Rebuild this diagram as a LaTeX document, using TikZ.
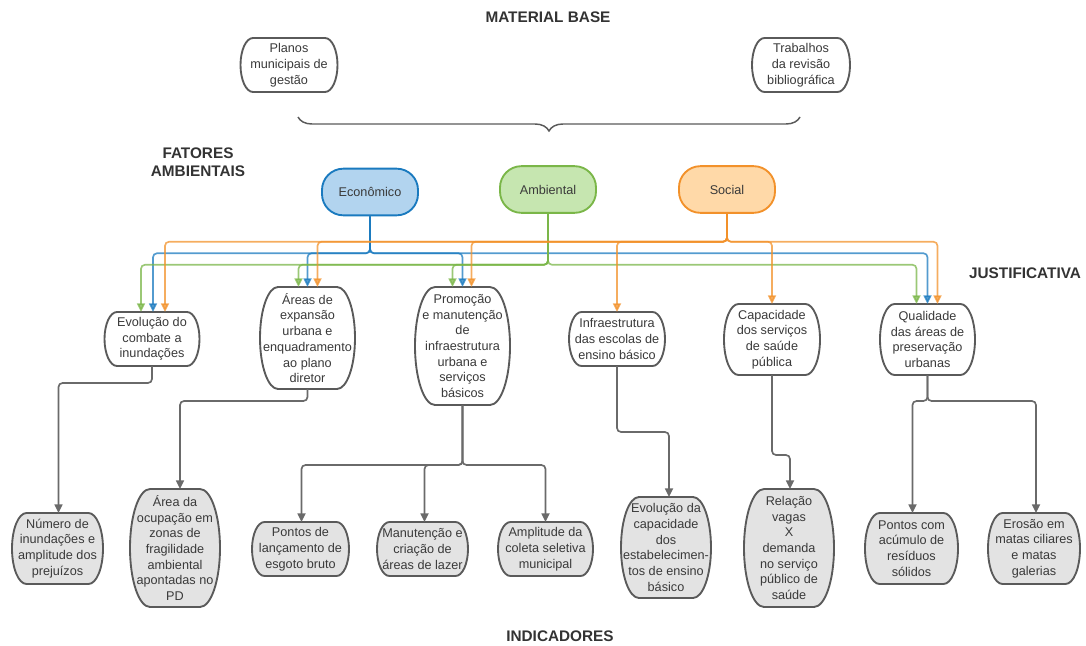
\documentclass[tikz,border=0pt]{standalone}
\usepackage{fontspec}
\setmainfont{Liberation Sans}
\usetikzlibrary{arrows.meta,calc,decorations.pathreplacing,backgrounds}
\definecolor{txt}{HTML}{3A3A3A}
\definecolor{titc}{HTML}{333333}
\definecolor{boxc}{HTML}{5A5A5A}
\definecolor{grayfill}{HTML}{E3E3E3}
\definecolor{gline}{HTML}{6A6A6A}
\definecolor{bluec}{HTML}{1A7ABF}
\definecolor{bluefill}{HTML}{B2D4EF}
\definecolor{greenc}{HTML}{7AB648}
\definecolor{greenfill}{HTML}{C6E6B0}
\definecolor{orangec}{HTML}{F2912A}
\definecolor{orangefill}{HTML}{FFD9A8}
\tikzset{
  box/.style={align=center, inner sep=0pt, outer sep=0pt, text=txt,
    font=\fontsize{9.5}{11.8}\selectfont},
  boxline/.style={draw=boxc, line width=1.4pt},
  fac/.style={line width=1.4pt, rounded corners=16pt, align=center, inner sep=0pt,
    minimum width=72pt, minimum height=35pt, text=txt, font=\fontsize{9.5}{12}\selectfont},
  titl/.style={font=\bfseries\fontsize{11.5}{13.5}\selectfont, text=titc, align=center},
  con/.style={line width=1.25pt, rounded corners=3pt, -{Triangle[length=6.5pt,width=6pt]}},
  gcon/.style={con, draw=gline},
  bcon/.style={con, draw=bluec, opacity=0.75},
  grcon/.style={con, draw=greenc, opacity=0.75},
  ocon/.style={con, draw=orangec, opacity=0.75}
}
% barrel-shaped outline around a named node: name, fill, side depth (px)
\newcommand\barrel[3]{%
  \draw[boxline, fill=#2] ($(#1.north west)+(#3,0)$) -- ($(#1.north east)+(-#3,0)$)
  .. controls ($(#1.north east)+(-0.448*#3,0)$) and ($(#1.north east)!0.448!(#1.east)$) .. (#1.east)
  .. controls ($(#1.south east)!0.448!(#1.east)$) and ($(#1.south east)+(-0.448*#3,0)$) .. ($(#1.south east)+(-#3,0)$)
  -- ($(#1.south west)+(#3,0)$)
  .. controls ($(#1.south west)+(0.448*#3,0)$) and ($(#1.south west)!0.448!(#1.west)$) .. (#1.west)
  .. controls ($(#1.north west)!0.448!(#1.west)$) and ($(#1.north west)+(0.448*#3,0)$) .. cycle;}
\begin{document}
\begin{tikzpicture}[x=0.75pt,y=-0.75pt]
\useasboundingbox (0,0) rectangle (1086,646);
% titles
\node[titl] (tmat) at (548,17) {MATERIAL BASE};
\node[titl] (tfat) at (198,162) {FATORES\\AMBIENTAIS};
\node[titl] (tjus) at (1025,273) {JUSTIFICATIVA};
\node[titl] (tind) at (560,636) {INDICADORES};
% material base
\node[box, minimum width=72.75pt, minimum height=40.5pt] (pla0) at (289,65) {Planos\\municipais de\\gestão};
\node[box, minimum width=73.5pt, minimum height=40.5pt] (tra0) at (801,65) {Trabalhos\\da revisão\\bibliográfica};
\coordinate (brl) at (298,117);
\coordinate (brr) at (800,117);
\draw[draw=boxc, line width=1.1pt, decorate, decoration={brace, mirror, amplitude=10.5pt}] (brl) -- (brr);
% factors
\node[fac, draw=bluec, fill=bluefill] (eco) at (370,192) {Econômico};
\node[fac, draw=greenc, fill=greenfill] (amb) at (548,189.5) {Ambiental};
\node[fac, draw=orangec, fill=orangefill] (soc) at (727,189.5) {Social};
% justificativa
\node[box, minimum width=71.25pt, minimum height=40.5pt] (evo) at (152,339) {Evolução do\\combate a\\inundações};
\node[box, minimum width=71.25pt, minimum height=76.5pt] (are) at (307.5,338) {Áreas de\\expansão\\urbana e\\enquadramento\\ao plano\\diretor};
\node[box, minimum width=71.25pt, minimum height=88.5pt] (pro) at (462.5,346) {Promoção\\e manutenção\\de\\infraestrutura\\urbana e\\serviços\\básicos};
\node[box, minimum width=72pt, minimum height=40.5pt] (inf) at (617,339) {Infraestrutura\\das escolas de\\ensino básico};
\node[box, minimum width=72pt, minimum height=53.25pt] (cap) at (772,339.5) {Capacidade\\dos serviços\\de saúde\\pública};
\node[box, minimum width=71.25pt, minimum height=53.25pt] (qua) at (927.5,339.5) {Qualidade\\das áreas de\\preservação\\urbanas};
% indicadores
\node[box, minimum width=68.25pt, minimum height=53.25pt] (num) at (57.5,548.5) {Número de\\inundações e\\amplitude dos\\prejuízos};
\node[box, minimum width=67.5pt, minimum height=88.5pt] (aoc) at (175,548) {Área da\\ocupação em\\zonas de\\fragilidade\\ambiental\\apontadas no\\PD};
\node[box, minimum width=72.75pt, minimum height=40.5pt] (pla) at (300.5,549) {Pontos de\\lançamento de\\esgoto bruto};
\node[box, minimum width=68.25pt, minimum height=40.5pt] (man) at (422.5,549) {Manutenção e\\criação de\\áreas de lazer};
\node[box, minimum width=71.25pt, minimum height=40.5pt] (amp) at (545.5,549) {Amplitude da\\coleta seletiva\\municipal};
\node[box, minimum width=67.5pt, minimum height=75.75pt] (eca) at (666,547.5) {Evolução da\\capacidade\\dos\\estabelecimen-\\tos de ensino\\básico};
\node[box, minimum width=67.5pt, minimum height=88.5pt] (rel) at (789,548) {Relação\\vagas\\X\\demanda\\no serviço\\público de\\saúde};
\node[box, minimum width=69.75pt, minimum height=53.25pt] (pco) at (911.5,548.5) {Pontos com\\acúmulo de\\resíduos\\sólidos};
\node[box, minimum width=69pt, minimum height=53.25pt] (ero) at (1034,548.5) {Erosão em\\matas ciliares\\e matas\\galerias};
% outlines
\begin{scope}[on background layer]
\barrel{pla0}{white}{12.5}
\barrel{tra0}{white}{12.5}
\barrel{evo}{white}{12.5}
\barrel{are}{white}{18}
\barrel{pro}{white}{20}
\barrel{inf}{white}{12.5}
\barrel{cap}{white}{14.5}
\barrel{qua}{white}{14.5}
\barrel{num}{grayfill}{14.5}
\barrel{aoc}{grayfill}{20}
\barrel{pla}{grayfill}{12.5}
\barrel{man}{grayfill}{12.5}
\barrel{amp}{grayfill}{12.5}
\barrel{eca}{grayfill}{18}
\barrel{rel}{grayfill}{20}
\barrel{pco}{grayfill}{14.5}
\barrel{ero}{grayfill}{14.5}
\end{scope}
% colored connectors: economico (blue)
\draw[bcon] (eco.south) -- ++(0,37) -| ($(evo.north)+(1,0)$);
\draw[bcon] (eco.south) -- ++(0,37) -| (are.north);
\draw[bcon] (eco.south) -- ++(0,37) -| (pro.north);
\draw[bcon] (eco.south) -- ++(0,37) -| (qua.north);
% ambiental (green)
\draw[grcon] (amb.south) -- ++(0,51) -| ($(evo.north)+(-11,0)$);
\draw[grcon] (amb.south) -- ++(0,51) -| ($(are.north)+(-9,0)$);
\draw[grcon] (amb.south) -- ++(0,51) -| ($(pro.north)+(-10,0)$);
\draw[grcon] (amb.south) -- ++(0,51) -| ($(qua.north)+(-11,0)$);
% social (orange)
\draw[ocon] (soc.south) -- ++(0,28) -| ($(evo.north)+(13,0)$);
\draw[ocon] (soc.south) -- ++(0,28) -| ($(are.north)+(10,0)$);
\draw[ocon] (soc.south) -- ++(0,28) -| ($(pro.north)+(9,0)$);
\draw[ocon] (soc.south) -- ++(0,28) -| (inf.north);
\draw[ocon] (soc.south) -- ++(0,28) -| (cap.north);
\draw[ocon] (soc.south) -- ++(0,28) -| ($(qua.north)+(10,0)$);
% gray connectors
\draw[gcon] (evo.south) -- ++(0,17) -| ($(num.north)+(1,0)$);
\draw[gcon] (are.south) -- ++(0,12) -| ($(aoc.north)+(5,0)$);
\draw[gcon] (pro.south) -- ++(0,60) -| ($(pla.north)+(1,0)$);
\draw[gcon] (pro.south) -- ++(0,60) -| ($(man.north)+(2,0)$);
\draw[gcon] (pro.south) -- ++(0,60) -| (amp.north);
\draw[gcon] (inf.south) -- ++(0,66) -| ($(eca.north)+(3,0)$);
\draw[gcon] (cap.south) -- ++(0,80) -| ($(rel.north)+(1,0)$);
\draw[gcon] (qua.south) -- ++(0,26) -| ($(pco.north)+(1,0)$);
\draw[gcon] (qua.south) -- ++(0,26) -| ($(ero.north)+(2,0)$);
\end{tikzpicture}
\end{document}
